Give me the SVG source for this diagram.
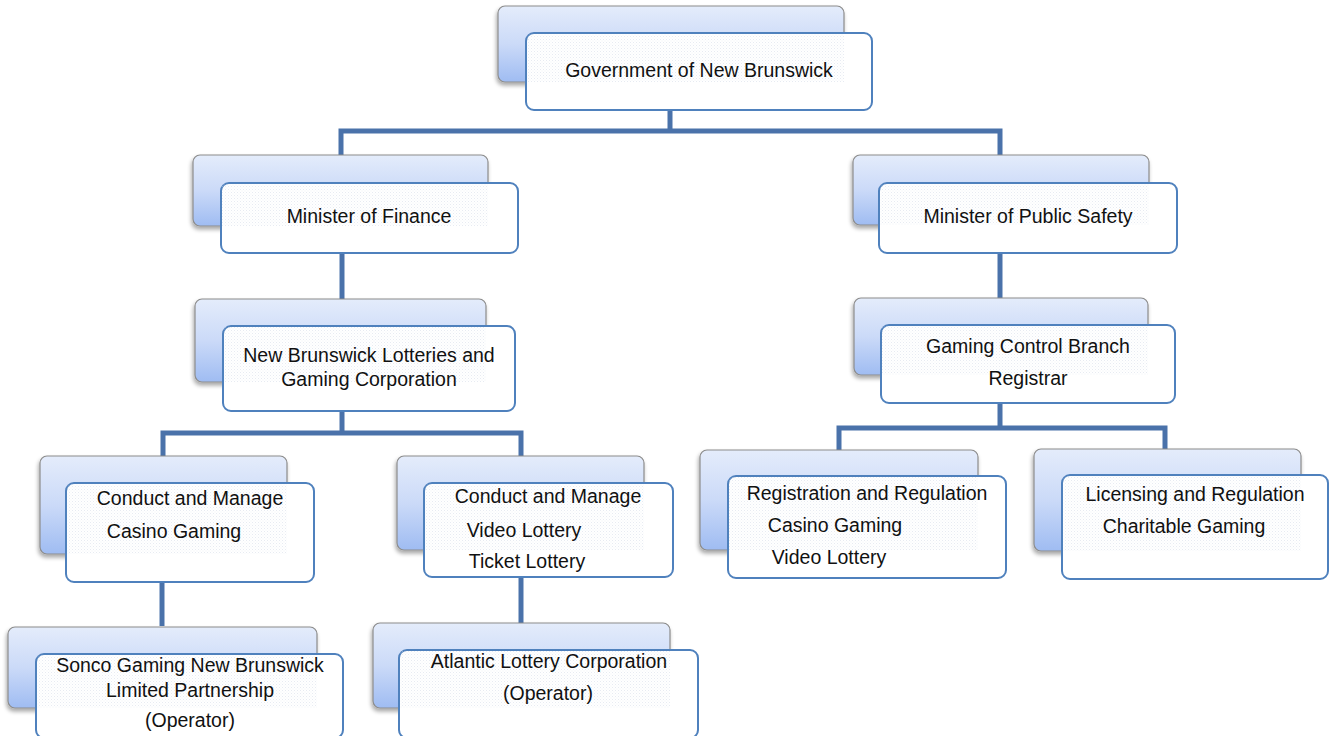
<svg xmlns="http://www.w3.org/2000/svg" width="1330" height="736" viewBox="0 0 1330 736">
<defs>
<linearGradient id="bg" x1="0" y1="0" x2="0" y2="1">
<stop offset="0" stop-color="#e4ecfb"/>
<stop offset="0.5" stop-color="#cbdaf8"/>
<stop offset="1" stop-color="#9fbcf2"/>
</linearGradient>
<filter id="sh" x="-10%" y="-10%" width="120%" height="130%">
<feGaussianBlur in="SourceAlpha" stdDeviation="2"/>
<feOffset dx="-1" dy="3" result="o"/>
<feComponentTransfer><feFuncA type="linear" slope="0.35"/></feComponentTransfer>
<feMerge><feMergeNode/><feMergeNode in="SourceGraphic"/></feMerge>
</filter>
<pattern id="dots" width="3" height="3" patternUnits="userSpaceOnUse">
<rect x="0" y="0" width="1" height="1" fill="#c9d3e3"/>
<rect x="1.5" y="1.5" width="1" height="1" fill="#dde3ee"/>
</pattern>
</defs>
<style>
.back{fill:url(#bg);stroke:#8c8c8c;stroke-width:1.2;filter:url(#sh)}
.front{fill:#ffffff;stroke:#4f81bd;stroke-width:2}
.tex{fill:url(#dots);opacity:0.45}
.lbl{font-family:"Liberation Sans",Arial,sans-serif;font-size:19.5px;fill:#111;text-anchor:middle}
.conn{fill:none;stroke:#4a72aa;stroke-width:5}
</style>
<rect width="1330" height="736" fill="#ffffff"/>

<g id="connectors">
<path class="conn" d="M670,110 V131 M341,155 V131 H1000 V155"/>
<path class="conn" d="M342,253 V299"/>
<path class="conn" d="M342,411 V433 M163,456 V433 H521 V456"/>
<path class="conn" d="M1000,253 V298"/>
<path class="conn" d="M1000,403 V428 M839,450 V428 H1165 V450"/>
<path class="conn" d="M162,582 V626"/>
<path class="conn" d="M521,577 V624"/>
</g>

<g id="gov">
<rect class="back" x="498" y="6" width="346" height="76" rx="7"/>
<rect class="front" x="526" y="33" width="346" height="77" rx="8"/>
<rect class="tex" x="527" y="34" width="317" height="48"/>
<text class="lbl" x="699" y="77">Government of New Brunswick</text>
</g>

<g id="finance">
<rect class="back" x="193" y="155" width="295" height="71" rx="7"/>
<rect class="front" x="221" y="183" width="297" height="70" rx="8"/>
<rect class="tex" x="222" y="184" width="266" height="42"/>
<text class="lbl" x="369" y="223">Minister of Finance</text>
</g>

<g id="nblgc">
<rect class="back" x="195" y="299" width="291" height="83" rx="7"/>
<rect class="front" x="223" y="326" width="292" height="85" rx="8"/>
<rect class="tex" x="224" y="327" width="262" height="55"/>
<text class="lbl" x="369" y="362">New Brunswick Lotteries and</text>
<text class="lbl" x="369" y="386">Gaming Corporation</text>
</g>

<g id="safety">
<rect class="back" x="853" y="155" width="296" height="70" rx="7"/>
<rect class="front" x="879" y="183" width="298" height="70" rx="8"/>
<rect class="tex" x="880" y="184" width="269" height="41"/>
<text class="lbl" x="1028" y="223">Minister of Public Safety</text>
</g>

<g id="gcb">
<rect class="back" x="854" y="298" width="294" height="77" rx="7"/>
<rect class="front" x="881" y="325" width="294" height="78" rx="8"/>
<rect class="tex" x="882" y="326" width="266" height="49"/>
<text class="lbl" x="1028" y="353">Gaming Control Branch</text>
<text class="lbl" x="1028" y="385">Registrar</text>
</g>

<g id="casino">
<rect class="back" x="40" y="456" width="247" height="98" rx="7"/>
<rect class="front" x="66" y="483" width="248" height="99" rx="8"/>
<rect class="tex" x="67" y="484" width="220" height="70"/>
<text class="lbl" x="190" y="505">Conduct and Manage</text>
<text class="lbl" x="174" y="538">Casino Gaming</text>
</g>

<g id="video">
<rect class="back" x="397" y="456" width="247" height="94" rx="7"/>
<rect class="front" x="424" y="483" width="249" height="94" rx="8"/>
<rect class="tex" x="425" y="484" width="219" height="66"/>
<text class="lbl" x="548" y="503">Conduct and Manage</text>
<text class="lbl" x="524" y="537">Video Lottery</text>
<text class="lbl" x="527" y="568">Ticket Lottery</text>
</g>

<g id="registration">
<rect class="back" x="700" y="450" width="278" height="100" rx="7"/>
<rect class="front" x="728" y="476" width="278" height="102" rx="8"/>
<rect class="tex" x="729" y="477" width="249" height="73"/>
<text class="lbl" x="867" y="500">Registration and Regulation</text>
<text class="lbl" x="835" y="532">Casino Gaming</text>
<text class="lbl" x="829" y="564">Video Lottery</text>
</g>

<g id="licensing">
<rect class="back" x="1034" y="449" width="267" height="102" rx="7"/>
<rect class="front" x="1062" y="475" width="266" height="104" rx="8"/>
<rect class="tex" x="1063" y="476" width="238" height="75"/>
<text class="lbl" x="1195" y="501">Licensing and Regulation</text>
<text class="lbl" x="1184" y="533">Charitable Gaming</text>
</g>

<g id="sonco">
<rect class="back" x="8" y="627" width="309" height="81" rx="7"/>
<rect class="front" x="36" y="654" width="307" height="84" rx="8"/>
<rect class="tex" x="37" y="655" width="280" height="53"/>
<text class="lbl" x="190" y="672">Sonco Gaming New Brunswick</text>
<text class="lbl" x="190" y="697">Limited Partnership</text>
<text class="lbl" x="190" y="727">(Operator)</text>
</g>

<g id="atlantic">
<rect class="back" x="373" y="623" width="297" height="85" rx="7"/>
<rect class="front" x="399" y="650" width="299" height="88" rx="8"/>
<rect class="tex" x="400" y="651" width="270" height="57"/>
<text class="lbl" x="549" y="668">Atlantic Lottery Corporation</text>
<text class="lbl" x="548" y="700">(Operator)</text>
</g>
</svg>
